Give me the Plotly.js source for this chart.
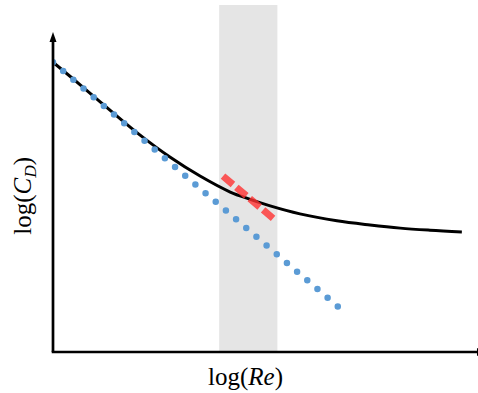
<!DOCTYPE html>
<html>
<head>
<meta charset="utf-8">
<script src="https://cdn.plot.ly/plotly-3.0.1.min.js"></script>
<style>
html,body{margin:0;padding:0;background:#fff;}
#chart{width:478px;height:393px;}
</style>
</head>
<body>
<div id="chart"></div>
<script>
// Drag curve: log(Re) vs log(C_D)
var curveX = [0, 0.64, 1.34, 2.05, 2.75, 3.46, 4.17, 4.64, 5.11, 5.81, 6.68, 7.46, 8.17, 8.87, 9.62];
var curveY = [8.35, 7.70, 6.97, 6.25, 5.62, 5.07, 4.61, 4.40, 4.21, 3.98, 3.78, 3.66, 3.57, 3.51, 3.46];
// Low-Re asymptote (dotted)
var asymX = [0, 6.71];
var asymY = [8.35, 1.30];
// Local tangent (red dashed)
var tangX = [4.0, 5.2];
var tangY = [5.07, 3.83];
// Shaded Re band
var bandX = [3.91, 5.28];
var xTitle = 'log(<i>Re</i>)';
var yTitle = 'log(<i>C</i><sub><i>D</i></sub>)';

var serif = 'Liberation Serif, Times New Roman, serif';

var traces = [
  {x: curveX, y: curveY, mode: 'lines', line: {color: '#000', width: 3, shape: 'spline', smoothing: 1}, hoverinfo: 'skip'},
  {x: asymX, y: asymY, mode: 'lines', line: {color: '#5b9bd5', width: 6.5, dash: '0px,13.4px'}, hoverinfo: 'skip'},
  {x: tangX, y: tangY, mode: 'lines', line: {color: 'rgba(255,50,50,0.8)', width: 7, dash: '13px,4.5px'}, hoverinfo: 'skip'}
];

var layout = {
  width: 478, height: 393,
  margin: {l: 53, r: 0, t: 5, b: 41},
  paper_bgcolor: '#fff', plot_bgcolor: '#fff',
  showlegend: false,
  xaxis: {range: [0, 10], showgrid: false, zeroline: false, showticklabels: false, ticks: '', showline: false},
  yaxis: {range: [0, 10], showgrid: false, zeroline: false, showticklabels: false, ticks: '', showline: false},
  annotations: [
    {text: xTitle, xref: 'paper', yref: 'paper', x: 0.453, y: -0.072, xanchor: 'center', yanchor: 'middle',
     showarrow: false, font: {family: serif, size: 25, color: '#000'}},
    {text: yTitle, xref: 'paper', yref: 'paper', x: -0.066, y: 0.45, xanchor: 'center', yanchor: 'middle',
     textangle: -90, showarrow: false, font: {family: serif, size: 25, color: '#000'}}
  ],
  shapes: [
    {type: 'rect', layer: 'below', xref: 'x', yref: 'paper', x0: bandX[0], x1: bandX[1], y0: 0, y1: 1,
     fillcolor: '#e5e5e5', line: {width: 0}},
    {type: 'line', xref: 'paper', yref: 'paper', x0: 0, x1: 0, y0: 0, y1: 0.895, line: {color: '#000', width: 2.7}},
    {type: 'line', xref: 'paper', yref: 'paper', x0: -0.003, x1: 1, y0: 0, y1: 0, line: {color: '#000', width: 2.7}},
    {type: 'path', xref: 'paper', yref: 'paper', xsizemode: 'pixel', ysizemode: 'pixel', xanchor: 0, yanchor: 0.922,
     path: 'M-3.5,-10L3.5,-10L0,0Z', fillcolor: '#000', line: {width: 0}},
    {type: 'path', xref: 'paper', yref: 'paper', xsizemode: 'pixel', ysizemode: 'pixel', xanchor: 0.9976, yanchor: 0,
     path: 'M0,-4L0,4L10,0Z', fillcolor: '#000', line: {width: 0}}
  ]
};

Plotly.newPlot('chart', traces, layout, {staticPlot: true}).then(function(gd){
  var tr = gd.querySelectorAll('.scatterlayer .trace');
  if (tr[1]) { var p = tr[1].querySelector('.js-line'); if (p) p.style.strokeLinecap = 'round'; }
});
</script>
</body>
</html>
